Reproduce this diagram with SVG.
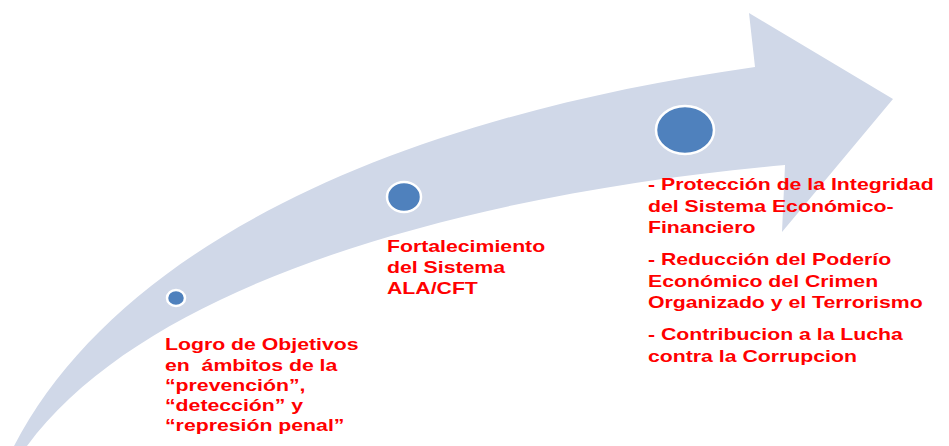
<svg xmlns="http://www.w3.org/2000/svg" width="949" height="446" viewBox="0 0 949 446">
<style>
.arrow{fill:#D0D8E8;stroke:none}
.dot{fill:#4F81BD;stroke:#FFFFFF;stroke-width:2.5}
.lbl{font-family:"Liberation Sans",Arial,sans-serif;font-weight:bold;font-size:17px;fill:#FF0000;white-space:pre}
</style>
<rect width="949" height="446" fill="#FFFFFF"/>
<g id="connectors">
<path class="arrow" d="M14,446 C115,252 380,120 755,67 L749,13 L893,99 L782,232 L785,165 C500,190 155,272 27,446 Z"/>
</g>
<g id="node1">
<ellipse class="dot" cx="176" cy="298" rx="9" ry="8"/>
<g transform="scale(1.25,1)">
<text class="lbl" x="132" y="350">Logro de Objetivos</text>
<text class="lbl" x="132" y="371" xml:space="preserve">en  ámbitos de la</text>
<text class="lbl" x="132" y="391">“prevención”,</text>
<text class="lbl" x="132" y="411">“detección” y</text>
<text class="lbl" x="132" y="431">“represión penal”</text>
</g>
</g>
<g id="node2">
<ellipse class="dot" cx="404" cy="197" rx="17" ry="15"/>
<g transform="scale(1.25,1)">
<text class="lbl" x="309.6" y="252">Fortalecimiento</text>
<text class="lbl" x="309.6" y="273">del Sistema</text>
<text class="lbl" x="309.6" y="294">ALA/CFT</text>
</g>
</g>
<g id="node3">
<ellipse class="dot" cx="685" cy="130" rx="29" ry="24"/>
<g transform="scale(1.25,1)">
<text class="lbl" x="518.4" y="190">- Protección de la Integridad</text>
<text class="lbl" x="518.4" y="212">del Sistema Económico-</text>
<text class="lbl" x="518.4" y="233">Financiero</text>
<text class="lbl" x="518.4" y="265">- Reducción del Poderío</text>
<text class="lbl" x="518.4" y="287">Económico del Crimen</text>
<text class="lbl" x="518.4" y="308">Organizado y el Terrorismo</text>
<text class="lbl" x="518.4" y="340">- Contribucion a la Lucha</text>
<text class="lbl" x="518.4" y="362">contra la Corrupcion</text>
</g>
</g>
</svg>
